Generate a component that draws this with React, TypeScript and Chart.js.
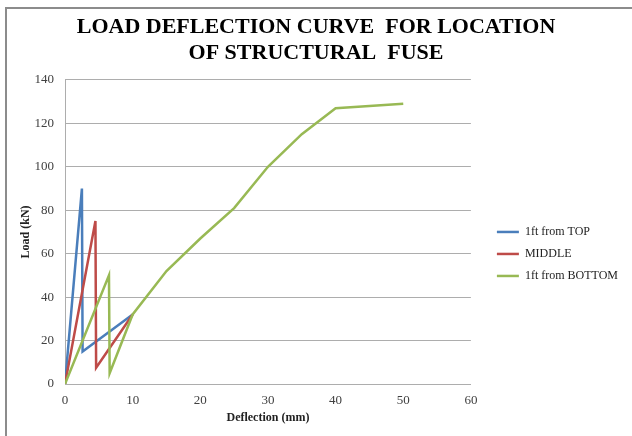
import React, { useEffect, useRef } from "react";
import { Chart, registerables } from "chart.js";

Chart.register(...registerables);

// ---- data ----
const seriesNames = ["1ft from TOP", "MIDDLE", "1ft from BOTTOM"];
const topDeflection = [0, 2.5, 2.6, 10];
const topLoad = [0, 90, 15, 32];
const middleDeflection = [0, 4.5, 4.6, 10];
const middleLoad = [0, 75, 7.5, 32];
const bottomDeflection = [0, 6.5, 6.6, 10, 15, 20, 25, 30, 35, 40, 45, 50];
const bottomLoad = [0, 50, 5, 32, 52, 67, 81, 100, 115, 127, 128, 129];
const titleLines = ["LOAD DEFLECTION CURVE  FOR LOCATION", "OF STRUCTURAL  FUSE"];
const xAxisTitle = "Deflection (mm)";
const yAxisTitle = "Load (kN)";
const xRange = [0, 60, 10];
const yRange = [0, 140, 20];

const colors = ["#4a7ebb", "#be4b48", "#98b954"];
const SERIF = "'Liberation Serif', 'Times New Roman', serif";

function pts(xs: number[], ys: number[]) {
  return xs.map((x, i) => ({ x, y: ys[i] }));
}

export default function App() {
  const ref = useRef<HTMLCanvasElement>(null);
  useEffect(() => {
    document.body.style.margin = "0";
    const series = [
      pts(topDeflection, topLoad),
      pts(middleDeflection, middleLoad),
      pts(bottomDeflection, bottomLoad),
    ];
    const chart = new Chart(ref.current!, {
      type: "line",
      data: {
        datasets: series.map((d, i) => ({
          label: seriesNames[i],
          data: d,
          borderColor: colors[i],
          backgroundColor: colors[i],
          borderWidth: 2.5,
          pointRadius: 0,
          pointStyle: "line",
          tension: 0,
          fill: false,
          order: 3 - i,
        })),
      },
      options: {
        responsive: false,
        animation: false,
        devicePixelRatio: 1,
        layout: { padding: { left: 4, top: 0, bottom: 0, right: 4 } },
        plugins: {
          tooltip: { enabled: false },
          title: {
            display: true,
            text: titleLines,
            color: "#000",
            font: { family: SERIF, size: 22, weight: "bold", lineHeight: 1.18 },
            padding: { top: 14, bottom: 14 },
          },
          legend: {
            position: "right",
            align: "center",
            fullSize: false,
            maxWidth: 300,
            title: {
              display: true,
              text: "",
              padding: 0,
              font: { size: 20, lineHeight: 2.2 },
            },
            labels: {
              usePointStyle: true,
              pointStyleWidth: 22,
              boxHeight: 12,
              padding: 10,
              color: "#222",
              font: { family: SERIF, size: 12 },
              sort: (a: any, b: any) => a.datasetIndex - b.datasetIndex,
            },
          },
        },
        scales: {
          x: {
            type: "linear",
            min: xRange[0],
            max: xRange[1],
            grid: { display: false, drawTicks: false },
            border: { display: true, color: "#adadad", width: 1 },
            ticks: {
              stepSize: xRange[2],
              color: "#404040",
              padding: 9,
              font: { family: SERIF, size: 13 },
            },
            title: {
              display: true,
              text: xAxisTitle,
              color: "#222",
              font: { family: SERIF, size: 12, weight: "bold" },
              padding: { top: 0, bottom: 11 },
            },
            afterFit: (s: any) => {
              s.height = 52;
            },
          },
          y: {
            type: "linear",
            min: yRange[0],
            max: yRange[1],
            grid: { color: "#adadad", lineWidth: 1, drawTicks: false },
            border: { display: true, color: "#adadad", width: 1 },
            ticks: {
              stepSize: yRange[2],
              color: "#404040",
              padding: 11,
              font: { family: SERIF, size: 13 },
            },
            title: {
              display: true,
              text: yAxisTitle,
              color: "#222",
              font: { family: SERIF, size: 12, weight: "bold" },
              padding: { top: 15, bottom: 0 },
            },
            afterFit: (s: any) => {
              s.width = 61;
            },
          },
          gap: {
            type: "linear",
            position: "right",
            display: true,
            grid: { display: false, drawTicks: false },
            border: { display: false },
            ticks: { display: false },
            afterFit: (s: any) => {
              s.width = 16;
            },
          },
        },
      } as any,
    });
    return () => chart.destroy();
  }, []);
  return (
    <div
      style={{
        position: "relative",
        width: 632,
        height: 436,
        overflow: "hidden",
        background: "#fff",
      }}
    >
      <div
        style={{
          position: "absolute",
          left: 5,
          top: 7,
          width: 700,
          height: 500,
          borderLeft: "2px solid #8c8c8c",
          borderTop: "2px solid #8c8c8c",
        }}
      />
      <canvas
        ref={ref}
        width={632}
        height={436}
        style={{ position: "absolute", left: 0, top: 0 }}
      />
    </div>
  );
}
